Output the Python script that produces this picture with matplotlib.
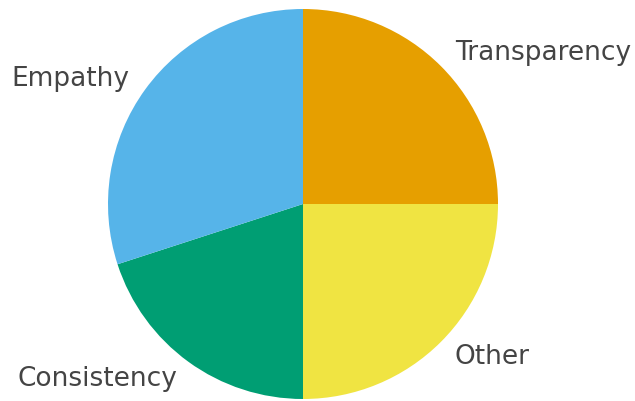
import matplotlib

matplotlib.use("Agg")
import matplotlib.pyplot as plt

LABELS = ["Transparency", "Other", "Consistency", "Empathy"]
SHARES = [25, 25, 20, 30]
COLORS = ["#E69F00", "#F0E442", "#009E73", "#56B4E9"]


def main() -> None:
    fig = plt.figure(figsize=(6.35, 4.02), dpi=100)
    ax = fig.add_axes([0, 0, 1, 1])
    ax.pie(
        SHARES,
        labels=LABELS,
        colors=COLORS,
        startangle=90,
        counterclock=False,
        textprops={"fontsize": 19, "color": "#444444"},
    )
    # centre the disc at (303, 205) px with a 195 px radius
    scale = 195.0
    ax.set_xlim(-303 / scale, (635 - 303) / scale)
    ax.set_ylim(-(402 - 205) / scale, 205 / scale)
    ax.set_aspect("auto")
    fig.savefig("out.png", dpi=100)
    plt.close(fig)


if __name__ == "__main__":
    main()
